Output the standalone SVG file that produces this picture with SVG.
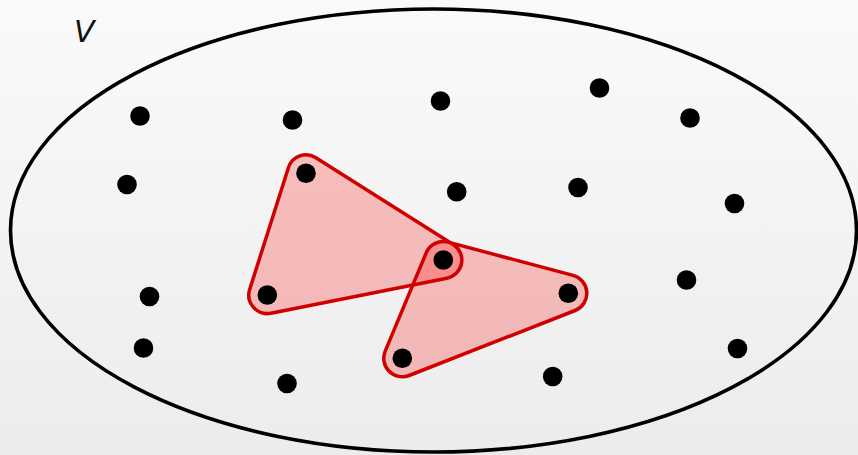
<svg xmlns="http://www.w3.org/2000/svg" width="858" height="455" viewBox="0 0 858 455">
<defs>
<linearGradient id="bg" x1="0" y1="0" x2="0" y2="1">
<stop offset="0" stop-color="#fafafa"/>
<stop offset="1" stop-color="#ececec"/>
</linearGradient>
</defs>
<style>
.dot{fill:#000}
.hullfill{fill:#ff0000;fill-opacity:0.23;stroke:none}
.hullline{fill:none;stroke:#d00000;stroke-width:3.5}
.set{fill:none;stroke:#000;stroke-width:3.6}
.lbl{font-family:"DejaVu Sans",sans-serif;font-style:italic;font-size:30px;fill:#111}
</style>
<rect width="858" height="455" fill="url(#bg)"/>
<g id="set-V">
<ellipse class="set" cx="433.5" cy="230.5" rx="423" ry="221.5"/>
<text class="lbl" x="74" y="42">V</text>
</g>
<g id="connectors">
<path id="hull1-fill" class="hullfill" d="M288.4,167.7 L249.7,289.4 A18.5,18.5 0 0 0 270.9,313.2 L446.9,278.2 A18.5,18.5 0 0 0 453.2,244.4 L315.9,157.7 A18.5,18.5 0 0 0 288.4,167.7 Z"/>
<path id="hull2-fill" class="hullfill" d="M426.2,252.9 L385.2,351.2 A18.5,18.5 0 0 0 409.1,375.5 L575.1,310.5 A18.5,18.5 0 0 0 573.1,275.4 L448.1,242.1 A18.5,18.5 0 0 0 426.2,252.9 Z"/>
<path id="hull1" class="hullline" d="M288.4,167.7 L249.7,289.4 A18.5,18.5 0 0 0 270.9,313.2 L446.9,278.2 A18.5,18.5 0 0 0 453.2,244.4 L315.9,157.7 A18.5,18.5 0 0 0 288.4,167.7 Z"/>
<path id="hull2" class="hullline" d="M426.2,252.9 L385.2,351.2 A18.5,18.5 0 0 0 409.1,375.5 L575.1,310.5 A18.5,18.5 0 0 0 573.1,275.4 L448.1,242.1 A18.5,18.5 0 0 0 426.2,252.9 Z"/>
</g>
<g id="n1"><circle class="dot" cx="140" cy="116" r="9.8"/></g>
<g id="n2"><circle class="dot" cx="292.5" cy="120" r="9.8"/></g>
<g id="n3"><circle class="dot" cx="440.5" cy="101" r="9.8"/></g>
<g id="n4"><circle class="dot" cx="599.5" cy="88" r="9.8"/></g>
<g id="n5"><circle class="dot" cx="690" cy="118" r="9.8"/></g>
<g id="n6"><circle class="dot" cx="127" cy="184.5" r="9.8"/></g>
<g id="n7"><circle class="dot" cx="306" cy="173.3" r="9.8"/></g>
<g id="n8"><circle class="dot" cx="456.7" cy="191.7" r="9.8"/></g>
<g id="n9"><circle class="dot" cx="578" cy="187.5" r="9.8"/></g>
<g id="n10"><circle class="dot" cx="734.5" cy="203.5" r="9.8"/></g>
<g id="n11"><circle class="dot" cx="443.3" cy="260" r="9.8"/></g>
<g id="n12"><circle class="dot" cx="149.5" cy="296.5" r="9.8"/></g>
<g id="n13"><circle class="dot" cx="267.3" cy="295" r="9.8"/></g>
<g id="n14"><circle class="dot" cx="568.3" cy="293.3" r="9.8"/></g>
<g id="n15"><circle class="dot" cx="686.5" cy="280" r="9.8"/></g>
<g id="n16"><circle class="dot" cx="143.5" cy="348" r="9.8"/></g>
<g id="n17"><circle class="dot" cx="402.3" cy="358.3" r="9.8"/></g>
<g id="n18"><circle class="dot" cx="287" cy="383.5" r="9.8"/></g>
<g id="n19"><circle class="dot" cx="552.7" cy="376.5" r="9.8"/></g>
<g id="n20"><circle class="dot" cx="737.5" cy="348.5" r="9.8"/></g>
</svg>
